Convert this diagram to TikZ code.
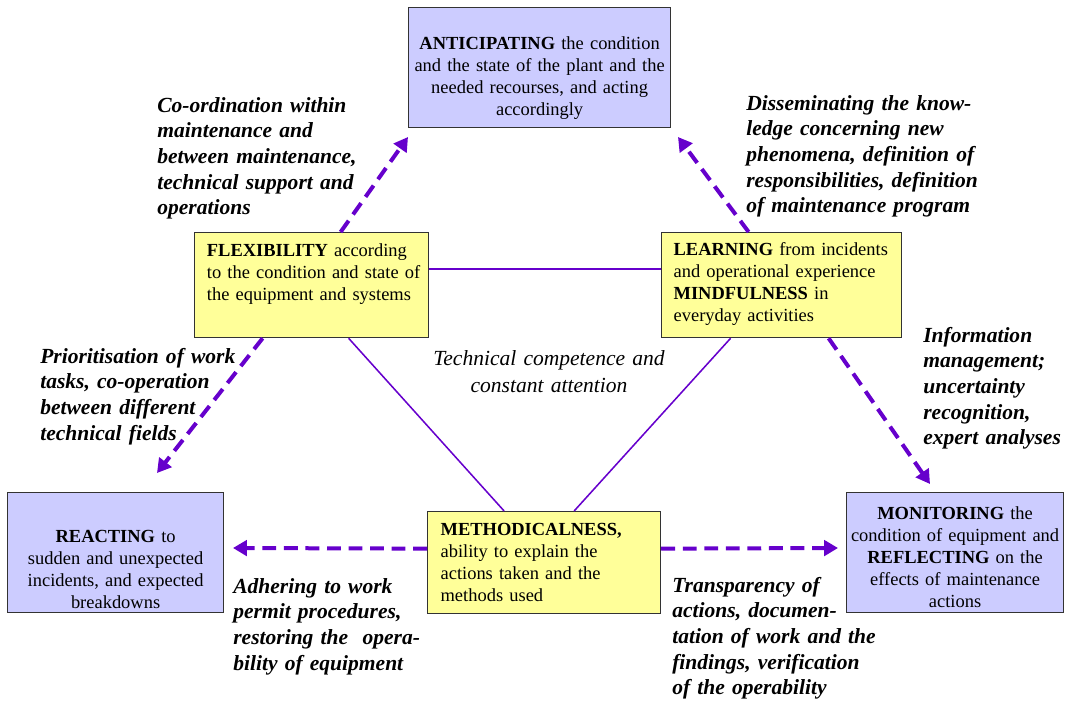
\documentclass[tikz,border=0pt]{standalone}
\usepackage{fontspec}
\setmainfont{Liberation Serif}
\usetikzlibrary{arrows.meta,calc}
\definecolor{goalblue}{HTML}{CCCCFF}
\definecolor{traityellow}{HTML}{FFFF99}
\definecolor{linkviolet}{HTML}{6600CC}

\begin{document}
\begin{tikzpicture}[
    x=0.65pt,y=-0.65pt,
    goal/.style={draw=black!80,line width=.8pt,fill=goalblue,anchor=north west,
        inner ysep=0pt,font=\fontsize{12}{14.3}\selectfont,align=center},
    trait/.style={draw=black!80,line width=.8pt,fill=traityellow,anchor=north west,
        inner ysep=0pt,font=\fontsize{12}{14.3}\selectfont,align=left},
    remark/.style={font=\fontsize{14}{16.7}\selectfont\bfseries\itshape,
        align=left,anchor=base west,inner sep=0pt,text width=165pt},
    link/.style={linkviolet,line width=1pt},
    flow/.style={linkviolet,line width=2.6pt,dash pattern=on 9pt off 5pt,
        -{Triangle[length=9pt,width=10pt]}},
    ]

    % Page frame
    \useasboundingbox (0,0) rectangle (1071,703);

    % Outer boxes
    \node[goal,inner xsep=3.25pt,text width=163.8pt,text height=27.3pt,text depth=50.7pt]
        (antic) at (408,7) {\textbf{ANTICIPATING} the condition\\and the state of the plant and the\\needed recourses, and acting\\accordingly};
    \node[goal,inner xsep=3.25pt,text width=133.9pt,text height=32.5pt,text depth=45.5pt]
        (react) at (7,492) {\textbf{REACTING} to\\sudden and unexpected\\incidents, and expected\\breakdowns};
    \node[goal,inner xsep=2pt,text width=137pt,text height=17.55pt,text depth=60.45pt]
        (monit) at (846,492) {\textbf{MONITORING} the\\condition of equipment and\\\textbf{REFLECTING} on the\\effects of maintenance\\actions};

    % Inner boxes
    \node[trait,inner xsep=8pt,text width=136.1pt,text height=15.6pt,text depth=52.65pt]
        (flex) at (194,232) {\textbf{FLEXIBILITY} according\\\mbox{to the condition and state of}\\the equipment and systems};
    \node[trait,inner xsep=7.8pt,text width=140.4pt,text height=14.95pt,text depth=53.3pt]
        (learn) at (661,232) {\textbf{LEARNING} from incidents\\and operational experience\\\textbf{MINDFULNESS} in\\everyday activities};
    \node[trait,inner xsep=8.45pt,text width=134.55pt,text height=15.6pt,text depth=50.7pt]
        (meth) at (427,511) {\textbf{METHODICALNESS,}\\ability to explain the\\actions taken and the\\methods used};

    % Triangle of thin links
    \draw[link] ($(flex.east)+(0,-16)$) -- ($(learn.west)+(0,-16)$);
    \draw[link] ($(flex.south)+(37,0)$) -- ($(meth.north)+(-40,0)$);
    \draw[link] ($(learn.south)+(-51,0)$) -- ($(meth.north)+(30,0)$);

    % Arrow tips
    \coordinate (tipAntF) at (408,137);
    \coordinate (tipAntL) at (678,137);
    \coordinate (tipReact) at (157,473);
    \coordinate (tipMonL) at (930,484);
    \coordinate (tipReactM) at (233,548);
    \coordinate (tipMonM) at (838,548);

    % Dashed arrows
    \draw[flow] ($(flex.north)+(29,0)$) -- (tipAntF);
    \draw[flow] ($(learn.north)+(-33,0)$) -- (tipAntL);
    \draw[flow] ($(flex.south)+(-49,0)$) -- (tipReact);
    \draw[flow] ($(learn.south)+(47,0)$) -- (tipMonL);
    \draw[flow] ($(meth.west)+(0,-14)$) -- (tipReactM);
    \draw[flow] ($(meth.east)+(0,-14)$) -- (tipMonM);

    % Arrow remarks
    \node[remark] (rmCoord) at (157,112) {Co-ordination within\\maintenance and\\between maintenance,\\technical support and\\operations};
    \node[remark] (rmDissem) at (746,110) {Disseminating the know-\\ledge concerning new\\phenomena, definition of\\responsibilities, definition\\of maintenance program};
    \node[remark] (rmPrior) at (40,363) {Prioritisation of work\\tasks, co-operation\\between different\\technical fields};
    \node[remark] (rmInfo) at (923,342) {Information\\management;\\uncertainty\\recognition,\\expert analyses};
    \node[remark] (rmAdher) at (233,593) {Adhering to work\\permit procedures,\\restoring the\ \ opera-\\bility of equipment};
    \node[remark] (rmTransp) at (672,592) {Transparency of\\actions, documen-\\tation of work and the\\findings, verification\\of the operability};

    % Centre text
    \node[font=\fontsize{14}{18}\selectfont\itshape,align=center,anchor=base,
        inner sep=0pt,text width=170pt] (core) at (549,365)
        {Technical competence and\\constant attention};
\end{tikzpicture}
\end{document}
